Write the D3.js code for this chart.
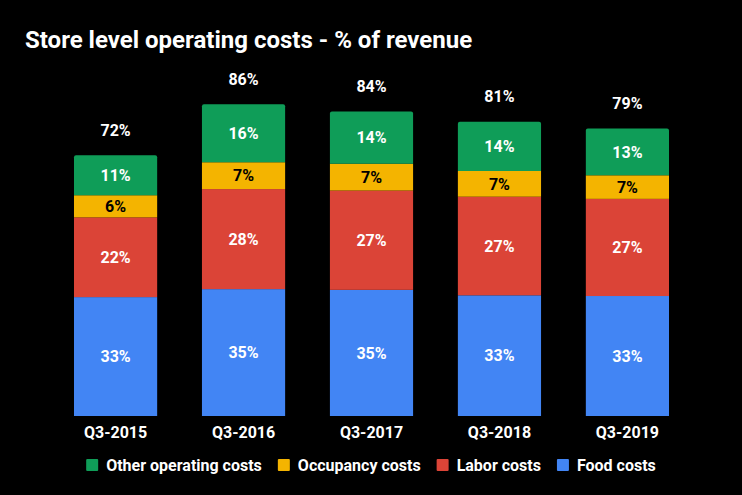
<!DOCTYPE html>
<html>
<head>
<meta charset="utf-8">
<script src="https://cdn.jsdelivr.net/npm/d3@7"></script>
<style>
  html, body { margin: 0; padding: 0; background: #000; }
  svg { display: block; font-family: Roboto, "Noto Sans", sans-serif; }
</style>
</head>
<body>
<svg id="chart" width="742" height="495"></svg>
<script>
const title = "Store level operating costs - % of revenue";
const categories = ["Q3-2015", "Q3-2016", "Q3-2017", "Q3-2018", "Q3-2019"];
const seriesNames = ["Food costs", "Labor costs", "Occupancy costs", "Other operating costs"];
const foodCosts = [32.8, 35.0, 34.8, 33.3, 33.1];
const laborCosts = [22.0, 27.6, 27.4, 27.2, 26.8];
const occupancyCosts = [6.1, 7.4, 7.4, 7.1, 6.5];
const otherCosts = [11.0, 16.0, 14.4, 13.6, 12.9];
const legendOrder = ["Other operating costs", "Occupancy costs", "Labor costs", "Food costs"];

const colors = {
  "Food costs": "#4285F4",
  "Labor costs": "#DB4437",
  "Occupancy costs": "#F4B400",
  "Other operating costs": "#0F9D58"
};
const labelColors = {
  "Food costs": "#fff",
  "Labor costs": "#fff",
  "Occupancy costs": "#000",
  "Other operating costs": "#fff"
};

const seriesValues = [foodCosts, laborCosts, occupancyCosts, otherCosts];
const table = categories.map((c, i) => {
  const row = { cat: c };
  seriesNames.forEach((s, k) => row[s] = seriesValues[k][i]);
  return row;
});

const svg = d3.select("#chart");
svg.append("rect").attr("width", 742).attr("height", 495).attr("fill", "#000");

svg.append("text")
  .attr("x", 25).attr("y", 48)
  .attr("fill", "#fff")
  .attr("font-size", 24)
  .attr("font-weight", 700)
  .text(title);

const x = d3.scaleBand().domain(categories).range([51.6, 691.4]).paddingInner(0.35).paddingOuter(0.175);
const y = d3.scaleLinear().domain([0, 100]).range([416, 53.5]);

const stack = d3.stack().keys(seriesNames)(table);
const fmt = v => Math.round(v) + "%";
const r = 2;

stack.forEach((layer, li) => {
  const key = layer.key;
  const isTop = li === stack.length - 1;
  const g = svg.append("g");
  layer.forEach((d, i) => {
    const x0 = x(d.data.cat), w = x.bandwidth();
    const yTop = y(d[1]), yBot = y(d[0]);
    if (isTop) {
      g.append("path")
        .attr("fill", colors[key])
        .attr("d", `M${x0},${yBot} V${yTop + r} Q${x0},${yTop} ${x0 + r},${yTop} H${x0 + w - r} Q${x0 + w},${yTop} ${x0 + w},${yTop + r} V${yBot} Z`);
    } else {
      g.append("rect")
        .attr("x", x0).attr("y", yTop)
        .attr("width", w).attr("height", yBot - yTop)
        .attr("fill", colors[key]);
    }
    g.append("text")
      .attr("x", x0 + w / 2)
      .attr("y", (yTop + yBot) / 2)
      .attr("dy", "0.36em")
      .attr("text-anchor", "middle")
      .attr("fill", labelColors[key])
      .attr("font-size", 16)
      .attr("font-weight", 700)
      .text(fmt(d[1] - d[0]));
  });
});

// totals
const last = stack[stack.length - 1];
svg.append("g").selectAll("text").data(last).join("text")
  .attr("x", d => x(d.data.cat) + x.bandwidth() / 2)
  .attr("y", d => y(d[1]) - 25)
  .attr("dy", "0.36em")
  .attr("text-anchor", "middle")
  .attr("fill", "#fff")
  .attr("font-size", 16)
  .attr("font-weight", 700)
  .text(d => fmt(d[1]));

// x axis
const xAxis = svg.append("g").attr("transform", "translate(0,416)")
  .call(d3.axisBottom(x).tickSize(0).tickPadding(11));
xAxis.select(".domain").remove();
xAxis.selectAll("text")
  .attr("fill", "#fff")
  .attr("font-size", 16)
  .attr("font-weight", 700)
  .attr("font-family", "Roboto, sans-serif");

// legend
const legend = svg.append("g");
let cx = 0;
legendOrder.forEach(name => {
  const it = legend.append("g").attr("transform", `translate(${cx},0)`);
  it.append("rect").attr("x", 0).attr("y", -6).attr("width", 12).attr("height", 12).attr("rx", 1).attr("fill", colors[name]);
  const t = it.append("text").attr("x", 20).attr("y", 0).attr("dy", "0.36em")
    .attr("fill", "#fff").attr("font-size", 16).attr("font-weight", 700).text(name);
  const tw = t.node().getComputedTextLength();
  cx += 20 + tw + 16;
});
const totalW = cx - 16;
legend.attr("transform", `translate(${371 - totalW / 2},465)`);
</script>
</body>
</html>
